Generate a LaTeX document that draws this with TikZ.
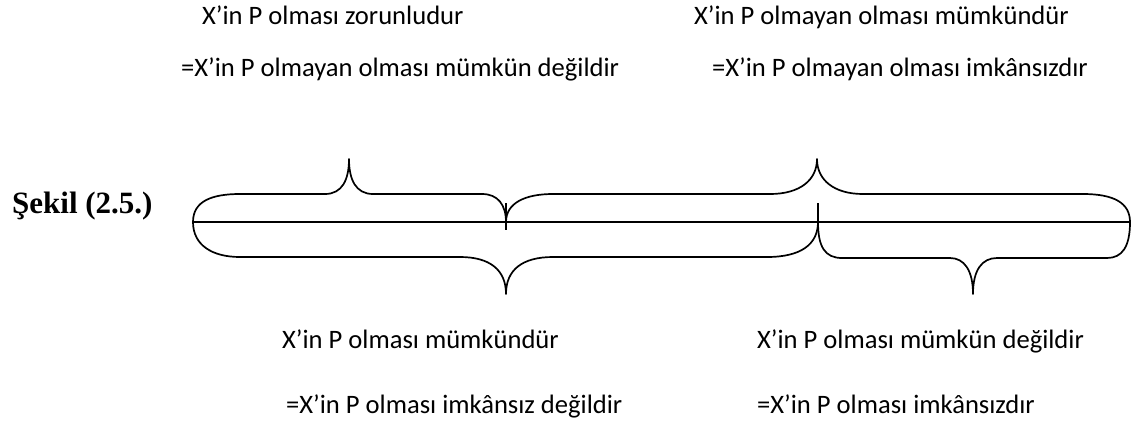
\documentclass[tikz,border=0pt]{standalone}
\usepackage{fontspec}
\setmainfont{Carlito}
\newfontfamily\figfont{Liberation Serif}
\begin{document}
\begin{tikzpicture}[x=1pt,y=-1pt,
  lbl/.style={anchor=base west,inner sep=0pt,font=\fontsize{26.6}{30}\selectfont},
  fig/.style={anchor=base west,inner sep=0pt,font=\figfont\bfseries\fontsize{31}{34}\selectfont},
  br/.style={line width=1.7pt,line join=round},
  axis/.style={line width=1.5pt}]
\useasboundingbox (0,0) rectangle (1141,424);
% key points
\coordinate (L) at (193,222);
\coordinate (M1) at (506,222);
\coordinate (M2) at (818,222);
\coordinate (R) at (1130,222);
% labels
\node[lbl] (t1) at (202,24) {X’in P olması zorunludur};
\node[lbl] (t2) at (181,76) {=X’in P olmayan olması mümkün değildir};
\node[lbl] (t3) at (694,24) {X’in P olmayan olması mümkündür};
\node[lbl] (t4) at (712,76) {=X’in P olmayan olması imkânsızdır};
\node[lbl] (b1) at (282,348) {X’in P olması mümkündür};
\node[lbl] (b2) at (286,413) {=X’in P olması imkânsız değildir};
\node[lbl] (b3) at (757,348) {X’in P olması mümkün değildir};
\node[lbl] (b4) at (757,413) {=X’in P olması imkânsızdır};
\node[fig] (sekil) at (12,213) {Şekil (2.5.)};
% axis and ticks
\draw[axis] (L) -- (R);
\draw[br] (506,203) -- (506,230);
\draw[br] (818,203) -- (M2);
% top brace 1
\draw[br] (L) .. controls (193,201) and (212,194) .. (240,194) -- (325,194)
  .. controls (342,194) and (349,180) .. (349,159)
  .. controls (349,180) and (356,194) .. (373,194) -- (482,194)
  .. controls (498,194) and (506,205) .. (M1);
% top brace 2
\draw[br] (M1) .. controls (506,203) and (525,194) .. (553,194) -- (770,194)
  .. controls (800,194) and (817,180) .. (817,159)
  .. controls (817,180) and (834,194) .. (863,194) -- (1083,194)
  .. controls (1114,194) and (1130,203) .. (R);
% bottom brace 1
\draw[br] (L) .. controls (193,245) and (212,257) .. (240,257) -- (460,257)
  .. controls (490,257) and (506,270) .. (506,294)
  .. controls (506,270) and (522,257) .. (553,257) -- (767,257)
  .. controls (800,257) and (818,245) .. (M2);
% bottom brace 2
\draw[br] (M2) .. controls (818,247) and (825,258) .. (842,258) -- (950,258)
  .. controls (964,258) and (973,270) .. (973,294)
  .. controls (973,270) and (982,258) .. (997,258) -- (1107,258)
  .. controls (1122,258) and (1130,247) .. (R);
\end{tikzpicture}
\end{document}
